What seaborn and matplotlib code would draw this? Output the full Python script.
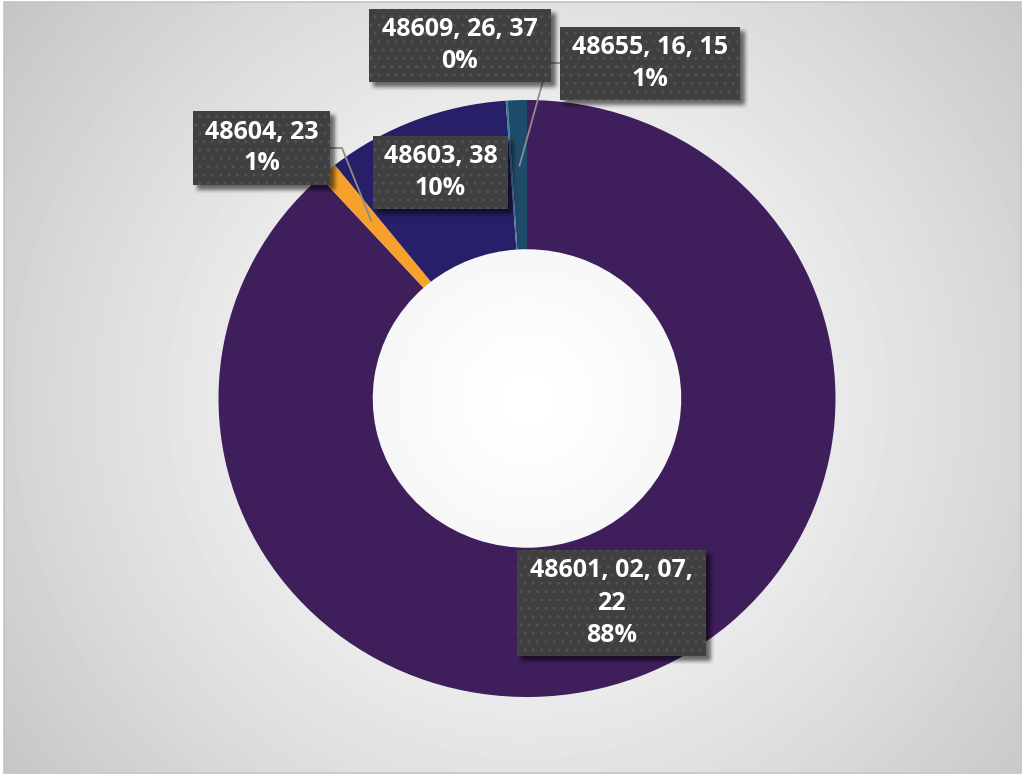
import numpy as np
import matplotlib
matplotlib.use("Agg")
import matplotlib.pyplot as plt
from matplotlib.patches import Rectangle
import seaborn as sns

# ZIP code groups and their share of the total
zip_groups = ["48601, 02, 07,\n22", "48604, 23", "48603, 38", "48609, 26, 37", "48655, 16, 15"]
shares = [88.3, 1.0, 9.6, 0.1, 1.0]
slice_colors = ["#3F1E5C", "#F5A12B", "#281F69", "#3E78A0", "#1F4B6B"]

sns.set_theme(style="white")
plt.rcParams["font.family"] = ["Open Sans", "DejaVu Sans"]

W, H = 1025, 775
fig = plt.figure(figsize=(W / 100, H / 100), dpi=100)
fig.patch.set_facecolor("white")

# ---- radial grey background with a thin frame
bg = fig.add_axes([0, 0, 1, 1], zorder=0)
bg.set_xlim(0, W)
bg.set_ylim(H, 0)
bg.axis("off")
yy, xx = np.mgrid[2:773, 4:1021]
dist = np.hypot(xx - 527, yy - 398)
shade = np.clip(255 - 58 * (dist / 650) ** 1.3, 0, 255) / 255
bg.imshow(shade, cmap="gray", vmin=0, vmax=1, extent=[4, 1021, 773, 2],
          aspect="auto", interpolation="bilinear")
bg.add_patch(Rectangle((4, 2), 1017, 771, fill=False, ec="#C4C4C4", lw=1.2))

# ---- doughnut
ax = fig.add_axes([218.5 / W, (H - 697) / H, 617 / W, 597 / H], zorder=1)
palette = sns.color_palette(slice_colors)
ax.pie(shares, colors=palette, startangle=90, counterclock=False, radius=1.0,
       wedgeprops=dict(width=0.5, linewidth=0))
ax.set_aspect("auto")
ax.set_xlim(-1, 1)
ax.set_ylim(-1, 1)
ax.axis("off")

# ---- label layer in pixel coordinates
ov = fig.add_axes([0, 0, 1, 1], zorder=2)
ov.set_xlim(0, W)
ov.set_ylim(H, 0)
ov.axis("off")
ov.patch.set_alpha(0)

# label boxes: (left, top, right, bottom) in pixels
boxes = [
    (517, 550, 706, 656),
    (193, 111, 330, 185),
    (373, 136, 508, 209),
    (369, 9, 551, 82),
    (560, 27, 740, 100),
]

total = sum(shares)
cum = np.cumsum([0] + shares[:-1])


def slice_anchor(i, r=0.78):
    ang = np.deg2rad(90 - 360 * (cum[i] + shares[i] / 2) / total)
    disp = ax.transData.transform((r * np.cos(ang), r * np.sin(ang)))
    return ov.transData.inverted().transform(disp)


# leader lines
lc = "#8C8C8C"
ax_pt = slice_anchor(1)
ov.plot([ax_pt[0], 342, 330], [ax_pt[1], 148, 148], color=lc, lw=1.3, zorder=3)
tp = slice_anchor(4)
ov.plot([tp[0], 548, 560], [tp[1], 63, 63], color=lc, lw=1.3, zorder=3)

# soft drop shadows behind the boxes
mask = np.zeros((H, W))
for (l, t, r, b) in boxes:
    mask[t + 4:b + 5, l + 4:r + 5] = 1.0


def box_blur(a, k):
    ker = np.ones(2 * k + 1) / (2 * k + 1)
    a = np.apply_along_axis(lambda v: np.convolve(v, ker, mode="same"), 0, a)
    a = np.apply_along_axis(lambda v: np.convolve(v, ker, mode="same"), 1, a)
    return a


mask = box_blur(box_blur(mask, 2), 2)
shadow = np.zeros((H, W, 4))
shadow[..., 3] = 0.55 * mask
ov.imshow(shadow, extent=[0, W, H, 0], aspect="auto", zorder=4, interpolation="bilinear")

# boxes and texts
line_gap = 32
for i, (l, t, r, b) in enumerate(boxes):
    ov.add_patch(Rectangle((l, t), r - l, b - t, facecolor="#404040", edgecolor="#535353",
                           lw=0, hatch="..", zorder=5))
    lines = zip_groups[i].split("\n") + [f"{shares[i] / total * 100:.0f}%"]
    cx, cy = (l + r) / 2, (t + b) / 2
    n = len(lines)
    for j, s in enumerate(lines):
        ov.text(cx, cy + (j - (n - 1) / 2) * line_gap, s, ha="center", va="center",
                color="white", fontsize=18, fontweight="bold", zorder=6)

fig.savefig("out.png", dpi=100)
